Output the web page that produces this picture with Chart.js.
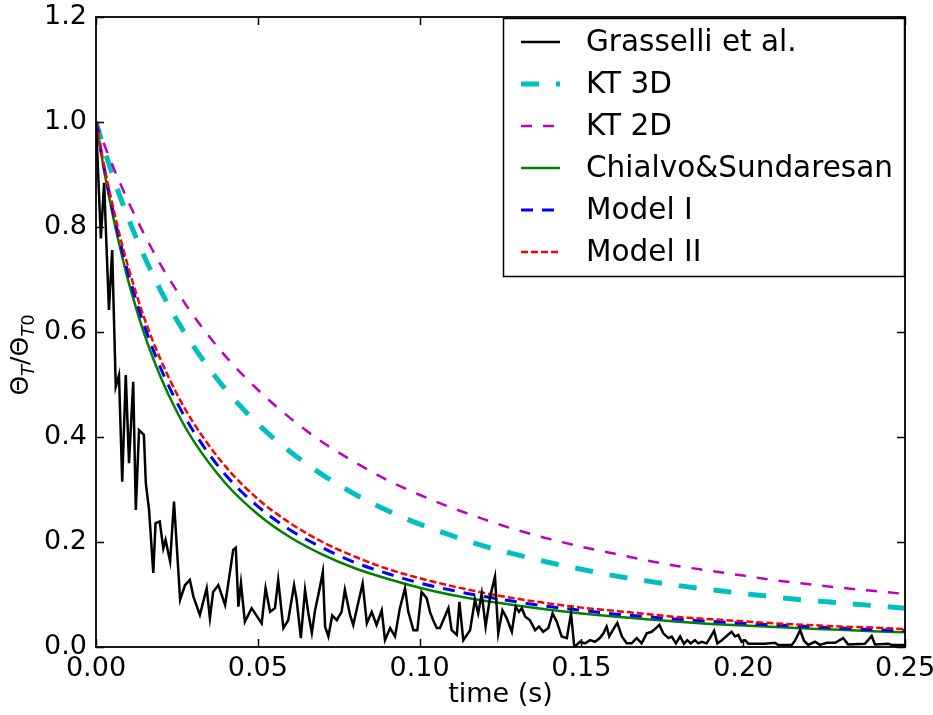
<!DOCTYPE html>
<html>
<head>
<meta charset="utf-8">
<script src="https://cdn.jsdelivr.net/npm/chart.js@4.4.0/dist/chart.umd.min.js"></script>
<style>
html, body { margin: 0; padding: 0; background: #fff; }
#wrap { width: 933px; height: 715px; }
</style>
</head>
<body>
<div id="wrap"><canvas id="c" width="933" height="715"></canvas></div>
<script>
// model curves, sampled on a common time grid (s)
const timeModel = [0, 0.0025, 0.005, 0.0075, 0.01, 0.015, 0.02, 0.025, 0.03, 0.04, 0.05, 0.06, 0.07, 0.08, 0.09, 0.10,
    0.11, 0.12, 0.13, 0.14, 0.15, 0.16, 0.17, 0.18, 0.19, 0.20, 0.21, 0.22, 0.23, 0.24, 0.25];
const kt3d = [1.0, 0.949, 0.901, 0.857, 0.816, 0.743, 0.679, 0.623, 0.574, 0.491, 0.425, 0.372, 0.328, 0.291, 0.260, 0.234,
    0.212, 0.192, 0.176, 0.161, 0.148, 0.136, 0.126, 0.117, 0.109, 0.102, 0.095, 0.089, 0.084, 0.079, 0.074];
const kt2d = [1.0, 0.958, 0.919, 0.883, 0.848, 0.785, 0.728, 0.678, 0.632, 0.554, 0.490, 0.436, 0.390, 0.352, 0.318, 0.290,
    0.265, 0.243, 0.223, 0.206, 0.191, 0.178, 0.165, 0.154, 0.145, 0.136, 0.127, 0.120, 0.113, 0.107, 0.101];
const chialvo = [1.0, 0.908, 0.828, 0.759, 0.697, 0.595, 0.514, 0.448, 0.394, 0.312, 0.253, 0.209, 0.176, 0.150, 0.130, 0.113,
    0.099, 0.088, 0.079, 0.071, 0.064, 0.058, 0.053, 0.048, 0.044, 0.041, 0.038, 0.035, 0.033, 0.030, 0.028];
const model1 = [1.0, 0.913, 0.837, 0.770, 0.711, 0.611, 0.531, 0.466, 0.412, 0.328, 0.268, 0.223, 0.189, 0.161, 0.140, 0.122,
    0.108, 0.096, 0.086, 0.077, 0.070, 0.063, 0.058, 0.053, 0.049, 0.045, 0.042, 0.039, 0.036, 0.033, 0.031];
const model2 = [1.0, 0.917, 0.845, 0.780, 0.723, 0.625, 0.547, 0.482, 0.428, 0.344, 0.282, 0.236, 0.200, 0.172, 0.149, 0.131,
    0.116, 0.103, 0.092, 0.083, 0.075, 0.069, 0.063, 0.057, 0.053, 0.049, 0.045, 0.042, 0.039, 0.037, 0.034];

// experiment (Grasselli et al.)
const timeExp = [0, 0.0015, 0.0025, 0.0040, 0.0050, 0.0061, 0.0071, 0.0081, 0.0092, 0.0102, 0.0115, 0.0123, 0.0133, 0.0148,
    0.0154, 0.0164, 0.0177, 0.0184, 0.0197, 0.0208, 0.0215, 0.0229, 0.0241, 0.0260, 0.0275, 0.0290, 0.0301, 0.0321, 0.0342,
    0.0352, 0.0362, 0.0378, 0.0399, 0.0424, 0.0432, 0.0440, 0.0448, 0.0460, 0.0481, 0.0512, 0.0524, 0.0538, 0.0553, 0.0563,
    0.0579, 0.0594, 0.0612, 0.0620, 0.0633, 0.0646, 0.0656, 0.0667, 0.0677, 0.0689, 0.0701, 0.0708, 0.0718, 0.0730, 0.0744,
    0.0759, 0.0769, 0.0785, 0.0795, 0.0811, 0.0824, 0.0837, 0.0852, 0.0867, 0.0883, 0.0893, 0.0909, 0.0924, 0.0939, 0.0955,
    0.0965, 0.0981, 0.0993, 0.1006, 0.1022, 0.1032, 0.1042, 0.1053, 0.1063, 0.1078, 0.1089, 0.1099, 0.1115, 0.1123, 0.1135,
    0.1156, 0.1171, 0.1181, 0.1192, 0.1204, 0.1218, 0.1233, 0.1243, 0.1256, 0.1269, 0.1285, 0.1297, 0.1307, 0.1316, 0.1326,
    0.1341, 0.1357, 0.1369, 0.1382, 0.1398, 0.1411, 0.1424, 0.1439, 0.1455, 0.1468, 0.1478, 0.1496, 0.1511, 0.1527, 0.1542,
    0.1557, 0.1568, 0.1578, 0.1586, 0.1597, 0.1611, 0.1625, 0.1640, 0.1655, 0.1671, 0.1686, 0.1702, 0.1717, 0.1727, 0.1741,
    0.1753, 0.1769, 0.1779, 0.1792, 0.1805, 0.1817, 0.1827, 0.1838, 0.1851, 0.1861, 0.1872, 0.1887, 0.1897, 0.1910, 0.1920,
    0.1934, 0.1947, 0.1964, 0.1975, 0.1985, 0.1995, 0.2006, 0.2016, 0.2052, 0.2067, 0.2098, 0.2108, 0.2150, 0.2160, 0.2176,
    0.2188, 0.2201, 0.2222, 0.2237, 0.2258, 0.2284, 0.2309, 0.2324, 0.2376, 0.2397, 0.2407, 0.2448, 0.2460, 0.2500];
const grasselli = [1.0, 0.778, 0.884, 0.642, 0.756, 0.496, 0.518, 0.315, 0.518, 0.350, 0.505, 0.261, 0.413, 0.404,
    0.312, 0.261, 0.141, 0.236, 0.239, 0.188, 0.204, 0.163, 0.277, 0.090, 0.118, 0.128, 0.096, 0.061, 0.112,
    0.055, 0.105, 0.118, 0.080, 0.185, 0.189, 0.077, 0.122, 0.048, 0.074, 0.045, 0.112, 0.067, 0.074, 0.128,
    0.036, 0.051, 0.118, 0.090, 0.017, 0.109, 0.065, 0.027, 0.070, 0.105, 0.143, 0.039, 0.020, 0.060, 0.051,
    0.067, 0.109, 0.061, 0.042, 0.086, 0.121, 0.045, 0.067, 0.042, 0.070, 0.013, 0.036, 0.020, 0.074, 0.112,
    0.067, 0.032, 0.032, 0.105, 0.093, 0.067, 0.051, 0.036, 0.036, 0.058, 0.074, 0.032, 0.023, 0.086, 0.013,
    0.032, 0.090, 0.064, 0.102, 0.039, 0.096, 0.134, 0.026, 0.070, 0.055, 0.029, 0.077, 0.067, 0.074, 0.058,
    0.051, 0.032, 0.039, 0.029, 0.036, 0.064, 0.048, 0.020, 0.017, 0.064, 0.0, 0.010, 0.007, 0.013, 0.010,
    0.017, 0.026, 0.039, 0.020, 0.032, 0.046, 0.020, 0.007, 0.007, 0.017, 0.007, 0.026, 0.029, 0.034, 0.042,
    0.026, 0.017, 0.020, 0.007, 0.020, 0.006, 0.013, 0.007, 0.013, 0.007, 0.010, 0.007, 0.017, 0.031, 0.007,
    0.013, 0.020, 0.029, 0.020, 0.023, 0.010, 0.013, 0.006, 0.006, 0.006, 0.008, 0.004, 0.004, 0.012, 0.032,
    0.012, 0.004, 0.010, 0.004, 0.008, 0.008, 0.017, 0.005, 0.006, 0.021, 0.005, 0.006, 0.004, 0.004];

const xTicks = [0, 0.05, 0.10, 0.15, 0.20, 0.25];
const yTicks = [0, 0.2, 0.4, 0.6, 0.8, 1.0, 1.2];

const FONT = '"DejaVu Sans", "Liberation Sans", sans-serif';
Chart.defaults.font.family = FONT;
Chart.defaults.font.size = 27;
Chart.defaults.color = '#000';

function pts(xs, ys) {
    return xs.map((x, i) => ({ x: x, y: ys[i] }));
}

// matplotlib-like box with inward ticks on all four sides
const frameTicks = {
    id: 'frameTicks',
    afterDatasetsDraw(chart) {
        const ctx = chart.ctx, a = chart.chartArea;
        const sx = chart.scales.x, sy = chart.scales.y;
        const len = 8;
        ctx.save();
        ctx.strokeStyle = '#000';
        ctx.lineWidth = 1.5;
        ctx.beginPath();
        xTicks.forEach(v => {
            const p = Math.round(sx.getPixelForValue(v)) + 0.5;
            ctx.moveTo(p, a.bottom); ctx.lineTo(p, a.bottom - len);
            ctx.moveTo(p, a.top); ctx.lineTo(p, a.top + len);
        });
        yTicks.forEach(v => {
            const p = Math.round(sy.getPixelForValue(v)) + 0.5;
            ctx.moveTo(a.left, p); ctx.lineTo(a.left + len, p);
            ctx.moveTo(a.right, p); ctx.lineTo(a.right - len, p);
        });
        ctx.stroke();
        ctx.lineWidth = 1.8;
        ctx.strokeRect(a.left, a.top, a.right - a.left, a.bottom - a.top);
        ctx.restore();
    }
};

// legend box in the upper right corner of the axes
const legendBox = {
    id: 'legendBox',
    afterDraw(chart) {
        const ctx = chart.ctx, a = chart.chartArea;
        const x0 = a.right - 402, y0 = a.top + 1, w = 402, h = 259;
        ctx.save();
        ctx.fillStyle = '#fff';
        ctx.fillRect(x0, y0, w, h);
        ctx.strokeStyle = '#000';
        ctx.lineWidth = 1.5;
        ctx.strokeRect(x0 + 0.5, y0 + 0.5, w - 1, h - 1);
        chart.data.datasets.forEach((ds, i) => {
            const yy = y0 + 24 + i * 42;
            ctx.beginPath();
            ctx.setLineDash(ds.borderDash || []);
            ctx.lineWidth = ds.borderWidth;
            ctx.strokeStyle = ds.borderColor;
            ctx.moveTo(x0 + 18, yy);
            ctx.lineTo(x0 + 57, yy);
            ctx.stroke();
            ctx.setLineDash([]);
            ctx.fillStyle = '#000';
            ctx.font = '29.5px ' + FONT;
            ctx.textBaseline = 'middle';
            ctx.textAlign = 'left';
            ctx.fillText(ds.label, x0 + 83, yy + 1);
        });
        ctx.restore();
    }
};

// y label with subscripts: Θ_T / Θ_T0
const yLabel = {
    id: 'yLabel',
    afterDraw(chart) {
        const ctx = chart.ctx;
        const parts = [
            { t: 'Θ', f: '25px ' + FONT, dy: 0 },
            { t: 'T', f: 'italic 18px ' + FONT, dy: 6 },
            { t: '/Θ', f: '25px ' + FONT, dy: 0 },
            { t: 'T', f: 'italic 18px ' + FONT, dy: 6 },
            { t: '0', f: '18px ' + FONT, dy: 6 }
        ];
        let total = 0;
        parts.forEach(p => { ctx.font = p.f; p.w = ctx.measureText(p.t).width; total += p.w; });
        ctx.save();
        ctx.translate(28, 355);
        ctx.rotate(-Math.PI / 2);
        ctx.fillStyle = '#000';
        ctx.textBaseline = 'alphabetic';
        ctx.textAlign = 'left';
        let x = -total / 2;
        parts.forEach(p => {
            ctx.font = p.f;
            ctx.fillText(p.t, x, p.dy);
            x += p.w;
        });
        ctx.restore();
    }
};

new Chart(document.getElementById('c').getContext('2d'), {
    type: 'line',
    data: {
        datasets: [
            {
                label: 'Grasselli et al.',
                data: pts(timeExp, grasselli),
                borderColor: '#000000',
                borderWidth: 2.5,
                tension: 0,
                order: 0
            },
            {
                label: 'KT 3D',
                data: pts(timeModel, kt3d),
                borderColor: '#00bfbf',
                borderWidth: 5,
                borderDash: [18, 17],
                cubicInterpolationMode: 'monotone',
                order: 5
            },
            {
                label: 'KT 2D',
                data: pts(timeModel, kt2d),
                borderColor: '#bf00bf',
                borderWidth: 2.5,
                borderDash: [11, 11],
                cubicInterpolationMode: 'monotone',
                order: 4
            },
            {
                label: 'Chialvo&Sundaresan',
                data: pts(timeModel, chialvo),
                borderColor: '#008000',
                borderWidth: 2.5,
                cubicInterpolationMode: 'monotone',
                order: 3
            },
            {
                label: 'Model I',
                data: pts(timeModel, model1),
                borderColor: '#0000ff',
                borderWidth: 3,
                borderDash: [12, 9],
                cubicInterpolationMode: 'monotone',
                order: 2
            },
            {
                label: 'Model II',
                data: pts(timeModel, model2),
                borderColor: '#ff0000',
                borderWidth: 2.5,
                borderDash: [7, 3],
                cubicInterpolationMode: 'monotone',
                order: 1
            }
        ]
    },
    options: {
        responsive: false,
        animation: false,
        devicePixelRatio: 1,
        elements: { point: { radius: 0 } },
        layout: { padding: { left: 0, right: 28, top: 17, bottom: 0 } },
        plugins: {
            legend: { display: false },
            tooltip: { enabled: false }
        },
        scales: {
            x: {
                type: 'linear',
                min: 0,
                max: 0.25,
                afterBuildTicks: s => { s.ticks = xTicks.map(v => ({ value: v })); },
                ticks: {
                    padding: 6,
                    maxRotation: 0,
                    autoSkip: false,
                    callback: v => v.toFixed(2)
                },
                grid: { display: false, drawTicks: false },
                border: { display: false },
                title: {
                    display: true,
                    text: 'time (s)',
                    font: { size: 27 },
                    padding: { top: 0, bottom: 4 }
                },
                afterFit: s => { s.height = 68; s.paddingLeft = 0; s.paddingRight = 0; }
            },
            y: {
                type: 'linear',
                min: 0,
                max: 1.2,
                afterBuildTicks: s => { s.ticks = yTicks.map(v => ({ value: v })); },
                ticks: {
                    padding: 9,
                    autoSkip: false,
                    callback: v => v.toFixed(1)
                },
                grid: { display: false, drawTicks: false },
                border: { display: false },
                afterFit: s => { s.width = 96; s.paddingTop = 0; s.paddingBottom = 0; }
            }
        }
    },
    plugins: [frameTicks, legendBox, yLabel]
});
</script>
</body>
</html>
